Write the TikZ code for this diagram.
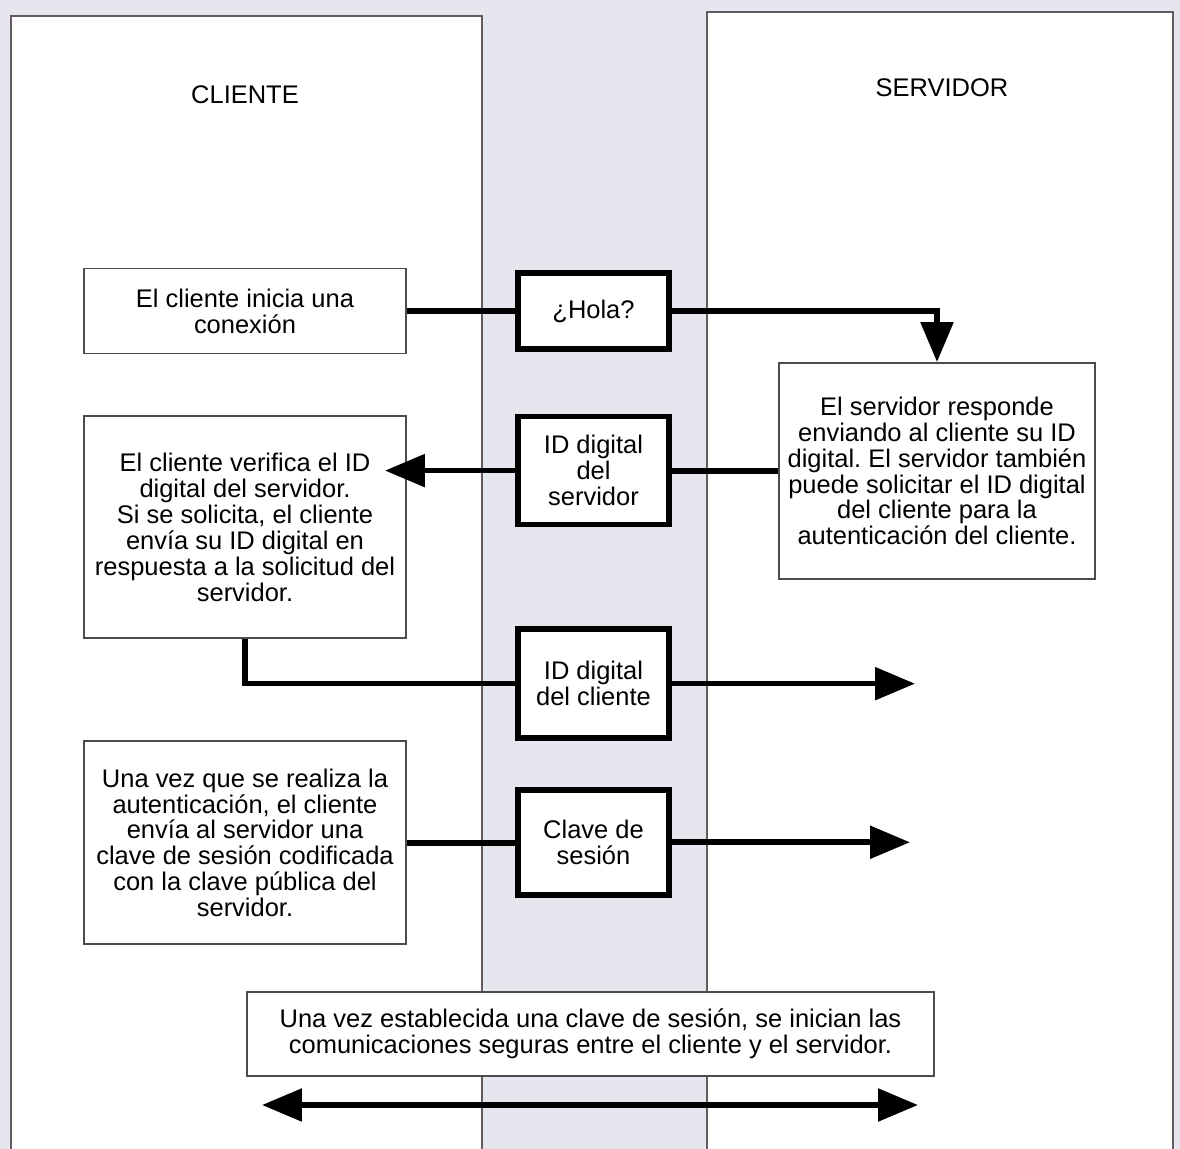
\documentclass[tikz,border=0pt]{standalone}
\usepackage{fontspec}
\setmainfont{Liberation Sans}
\usepackage{tikz}
\usetikzlibrary{positioning, arrows.meta}
\definecolor{fondo}{RGB}{230,231,238}
\definecolor{borde}{RGB}{100,90,96}

\begin{document}
\frenchspacing
\begin{tikzpicture}[x=0.02cm, y=-0.02cm,
    texto/.style={font=\fontsize{14.5}{14.7}\selectfont, align=center, inner sep=0pt},
    caja/.style={texto, draw=black!70, line width=1.1pt, fill=white, minimum width=6.44cm},
    msg/.style={texto, draw=black, line width=3.2pt, fill=white, minimum width=3.02cm},
    flecha/.style={line width=3.2pt, -{Triangle[length=8mm, width=6.4mm]}},
    linea/.style={line width=3.2pt}]
            \useasboundingbox (0,0) rectangle (1180,1149);
            \fill [fondo] (0,0) rectangle (1180,1149);

            % the two lanes, open at the bottom
            \draw [borde, line width=1.1pt, fill=white] (11,1170) |- (482,16) -- (482,1170);
            \draw [borde, line width=1.1pt, fill=white] (707,1170) |- (1173,12) -- (1173,1170);

            \node [texto] (Cliente) at (245,95) {CLIENTE};
            \node [texto] (Servidor) at (942,88) {SERVIDOR};

            % client column
            \node [caja, minimum height=1.7cm] (Inicio) at (245,311) {El cliente inicia una\\conexión};
            \node [caja, minimum height=4.44cm, below=1.22cm of Inicio] (Verifica)
                {El cliente verifica el ID\\digital del servidor.\\Si se solicita, el cliente\\envía su ID digital en\\respuesta a la solicitud del\\servidor.};
            \node [caja, minimum height=4.06cm, below=2.02cm of Verifica] (Auth)
                {Una vez que se realiza la\\autenticación, el cliente\\envía al servidor una\\clave de sesión codificada\\con la clave pública del\\servidor.};

            % messages in the middle
            \node [msg, minimum height=1.52cm] (Hola) at (593.5,311) {¿Hola?};
            \node [msg, minimum height=2.16cm, below=1.24cm of Hola] (IDServ) {ID digital\\del\\servidor};
            \node [msg, minimum height=2.18cm, below=1.98cm of IDServ] (IDCli) {ID digital\\del cliente};
            \node [msg, minimum height=2.1cm, below=0.92cm of IDCli] (Clave) {Clave de\\sesión};

            % server column
            \node [caja, minimum width=6.32cm, minimum height=4.32cm] (Respuesta) at (937,471)
                {El servidor responde\\enviando al cliente su ID\\digital. El servidor también\\puede solicitar el ID digital\\del cliente para la\\autenticación del cliente.};

            \node [caja, minimum width=13.74cm, minimum height=1.68cm] (Final) at (590.5,1034)
                {Una vez establecida una clave de sesión, se inician las\\comunicaciones seguras entre el cliente y el servidor.};

            \coordinate (FinCli) at (915,683.5);
            \coordinate (FinClave) at (910,843);
            \coordinate (ExtIzq) at (262,1105);
            \coordinate (ExtDer) at (918,1105);

            \draw [linea] (Inicio.east) -- (Hola.west);
            \draw [flecha] (Hola.east) -| (Respuesta.north);
            \draw [linea] (Respuesta.west) -- (Respuesta.west -| IDServ.east);
            \draw [flecha, shorten >=-0.44cm] (IDServ.west) -- (IDServ.west -| Verifica.east);
            \draw [linea] (Verifica.south) |- (IDCli.west);
            \draw [flecha] (IDCli.east) -- (FinCli |- IDCli.east);
            \draw [linea] (Auth.east) -- (Auth.east -| Clave.west);
            \draw [flecha] (Clave.east) -- (FinClave |- Clave.east);
            \draw [line width=3.2pt, {Triangle[length=8mm, width=6.4mm]}-{Triangle[length=8mm, width=6.4mm]}]
                (ExtIzq) -- (ExtDer);

        \end{tikzpicture}
\end{document}
